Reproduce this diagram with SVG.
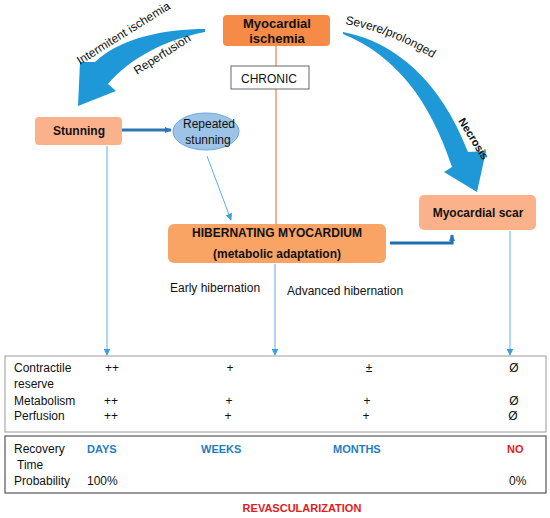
<svg xmlns="http://www.w3.org/2000/svg" width="550" height="518" viewBox="0 0 550 518">
<defs>
<style>
text{font-family:"Liberation Sans",Arial,sans-serif;fill:#111;font-size:12px}
.b{font-weight:bold}
.c{text-anchor:middle}
.blue{fill:#1f7dc4;font-weight:bold;font-size:11px}
.red{fill:#e31b1b;font-weight:bold;font-size:11px}
.thin{stroke:#5aaee6;stroke-width:1;fill:none}
.big{fill:#1f98d8}
</style>
<marker id="ah" viewBox="0 0 10 10" refX="9" refY="5" markerWidth="7" markerHeight="7" orient="auto" markerUnits="userSpaceOnUse">
<path d="M0,0 L10,5 L0,10 Z" fill="#3a9fe0"/>
</marker>
<marker id="ah2" viewBox="0 0 10 10" refX="8" refY="5" markerWidth="8" markerHeight="8" orient="auto" markerUnits="userSpaceOnUse">
<path d="M0,1 L9,5 L0,9 Z" fill="#2e75b6"/>
</marker>
<path id="sevp" d="M345,24 Q395,33 442,64"/>
</defs>
<rect width="550" height="518" fill="#fff"/>

<g id="connectors">
<line x1="276" y1="46" x2="276" y2="224" stroke="#f4884a" stroke-width="1.3"/>
<path class="big" d="M205,29 C165,29 120,38 95,62 L80,62 L78,106 L116,91 L108,84 C130,58 165,40 205,32 Z"/>
<path class="big" d="M343,32 C395,42 440,80 468,152 L486,151 L477,192 L444,172 L452,167 C430,100 395,55 343,34 Z"/>
<line x1="122" y1="130" x2="171" y2="130" stroke="#2e75b6" stroke-width="3" marker-end="url(#ah2)"/>
<line class="thin" x1="207" y1="156" x2="231" y2="220" marker-end="url(#ah)"/>
<path d="M390,243 H452 V235" fill="none" stroke="#1f6fb0" stroke-width="3" marker-end="url(#ah2)"/>
<line class="thin" x1="107" y1="146" x2="107" y2="355" marker-end="url(#ah)"/>
<line class="thin" x1="275" y1="264" x2="275" y2="355" marker-end="url(#ah)"/>
<line class="thin" x1="510" y1="231" x2="510" y2="355" marker-end="url(#ah)"/>
<text transform="translate(80,65) rotate(-32)">Intermitent ischemia</text>
<text transform="translate(137,75) rotate(-32.5)">Reperfusion</text>
<text><textPath href="#sevp">Severe/prolonged</textPath></text>
<text class="b" style="font-size:11px" transform="translate(458,121) rotate(58)">Necrosis</text>
</g>

<g id="ischemia">
<rect x="223" y="15" width="107" height="31" rx="4" fill="#f58b46"/>
<text class="b c" style="font-size:13px" x="277" y="28">Myocardial</text>
<text class="b c" style="font-size:13px" x="277" y="43">ischemia</text>
</g>

<g id="chronic">
<rect x="231" y="66" width="78" height="23" fill="#fff" stroke="#666" stroke-width="1"/>
<text class="c" x="269" y="83">CHRONIC</text>
</g>

<g id="stunning">
<rect x="35" y="117" width="87" height="28" rx="4" fill="#fbb28b"/>
<text class="b c" x="79" y="135">Stunning</text>
</g>

<g id="repeated">
<ellipse cx="206" cy="131.5" rx="33" ry="18.5" fill="#9dc3e6" stroke="#6aa6dc" stroke-width="1"/>
<text class="c" x="209" y="128">Repeated</text>
<text class="c" x="208" y="144">stunning</text>
</g>

<g id="hibernating">
<rect x="168" y="224" width="218" height="39" rx="6" fill="#f9a365"/>
<text class="b c" x="277" y="237">HIBERNATING MYOCARDIUM</text>
<text class="b c" x="277" y="258">(metabolic adaptation)</text>
</g>

<g id="scar">
<rect x="419" y="195" width="117" height="35" rx="5" fill="#fbb28b"/>
<text class="b c" x="478" y="217">Myocardial scar</text>
</g>

<text x="170" y="292">Early hibernation</text>
<text x="287" y="295">Advanced hibernation</text>

<g id="table1">
<rect x="5" y="356" width="541" height="76" fill="none" stroke="#999" stroke-width="1"/>
<text x="14" y="372">Contractile</text>
<text x="14" y="388">reserve</text>
<text x="14" y="405">Metabolism</text>
<text x="14" y="420">Perfusion</text>
<text class="c" x="112" y="372">++</text>
<text class="c" x="230" y="372">+</text>
<text class="c" x="369" y="372">±</text>
<text class="c" x="514" y="372">Ø</text>
<text class="c" x="111" y="405">++</text>
<text class="c" x="229" y="405">+</text>
<text class="c" x="367" y="405">+</text>
<text class="c" x="514" y="405">Ø</text>
<text class="c" x="111" y="420">++</text>
<text class="c" x="228" y="420">+</text>
<text class="c" x="366" y="420">+</text>
<text class="c" x="513" y="420">Ø</text>
</g>

<g id="table2">
<rect x="5" y="436" width="541" height="57" fill="none" stroke="#555" stroke-width="1.2"/>
<text x="14" y="453">Recovery</text>
<text x="17" y="469">Time</text>
<text x="14" y="485">Probability</text>
<text class="blue" x="87" y="453">DAYS</text>
<text class="blue" x="201" y="453">WEEKS</text>
<text class="blue" x="333" y="453">MONTHS</text>
<text class="red" x="507" y="453">NO</text>
<text x="87" y="485">100%</text>
<text x="509" y="485">0%</text>
</g>

<text class="red c" x="302" y="512">REVASCULARIZATION</text>
</svg>
